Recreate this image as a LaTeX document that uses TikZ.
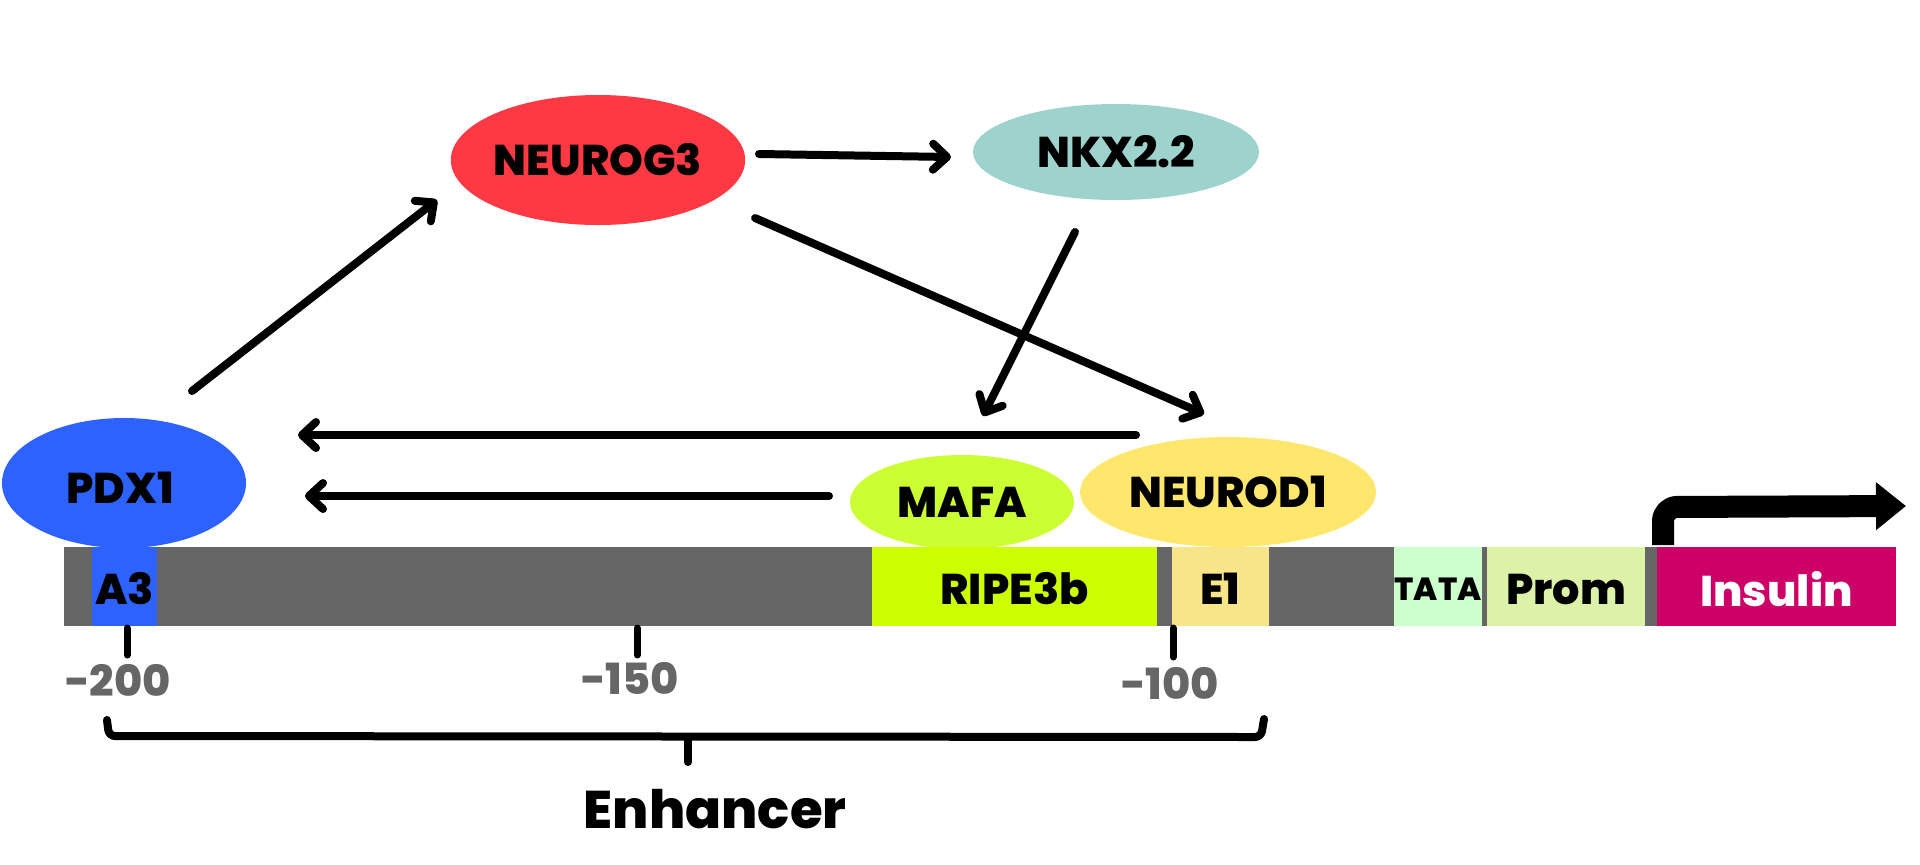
\documentclass[tikz,border=0pt]{standalone}
\usepackage{fontspec}
\setmainfont{Poppins}[BoldFont={Poppins ExtraBold}]
\usetikzlibrary{arrows.meta,calc,shapes.geometric}
\definecolor{pdxblue}{HTML}{2E62FF}
\definecolor{ngred}{HTML}{FF3944}
\definecolor{nkxteal}{HTML}{9DD3CC}
\definecolor{mafalime}{HTML}{CCFF33}
\definecolor{ripelime}{HTML}{CCFF00}
\definecolor{ndyellow}{HTML}{FFE76E}
\definecolor{eonebox}{HTML}{F8E58A}
\definecolor{bargray}{HTML}{666666}
\definecolor{tatagreen}{HTML}{CCFFCC}
\definecolor{promgreen}{HTML}{DCF2A8}
\definecolor{insmag}{HTML}{CC0066}
\tikzset{
  tf/.style={ellipse, inner sep=0pt, font=\fontsize{21.5pt}{24pt}\selectfont\bfseries, text=black},
  seg/.style={inner sep=0pt, font=\fontsize{21.5pt}{24pt}\selectfont\bfseries, text=black},
  arr/.style={line width=4pt, line cap=round, -{Straight Barb[length=7pt,width=13pt,line cap=round,round]}},
  tick/.style={line width=3.5pt, line cap=round},
  ticklab/.style={font=\fontsize{21.5pt}{24pt}\selectfont\bfseries, text=bargray, inner sep=0pt},
  brack/.style={line width=4pt, line cap=round, line join=round, rounded corners=3pt}
}
\begin{document}
\begin{tikzpicture}[x=0.5pt,y=-0.5pt]
\useasboundingbox (0,0) rectangle (1920,864);
% transcription factors
\node[tf, fill=pdxblue, minimum width=122pt, minimum height=65pt] (pdx1) at (124,483) {};
\node[seg] at (120,488) {PDX1};
\node[tf, fill=ngred, minimum width=143pt, minimum height=65pt] (neurog3) at (598,160) {NEUROG3};
\node[tf, fill=nkxteal, minimum width=143pt, minimum height=48pt] (nkx) at (1116,152) {NKX2.2};
\node[tf, fill=mafalime, minimum width=112pt, minimum height=47pt] (mafa) at (962,502) {MAFA};
\node[tf, fill=ndyellow, minimum width=148pt, minimum height=55pt] (neurod1) at (1228,492) {NEUROD1};
% DNA bar
\fill[bargray] (64,547) rectangle (1896,626);
\node[seg, fill=pdxblue, minimum width=32.5pt, minimum height=39.5pt, anchor=north west] (a3) at (92,547) {};
\node[seg] at (124.5,589) {A3};
\node[seg, fill=ripelime, minimum width=142.5pt, minimum height=39.5pt, anchor=north west] (ripe) at (872,547) {};
\node[seg] at (1014.5,589) {RIPE3b};
\node[seg, fill=eonebox, minimum width=48.5pt, minimum height=39.5pt, anchor=north west] (e1) at (1172,547) {};
\node[seg] at (1220.5,589) {E1};
\node[seg, fill=tatagreen, minimum width=44pt, minimum height=39.5pt, anchor=north west] (tata) at (1394,547) {};
\node[seg, font=\fontsize{16pt}{18pt}\selectfont\bfseries] at (1438,589) {TATA};
\node[seg, fill=promgreen, minimum width=79pt, minimum height=39.5pt, anchor=north west] (prom) at (1487,547) {};
\node[seg] at (1566,589) {Prom};
\node[seg, fill=insmag, minimum width=119.5pt, minimum height=39.5pt, anchor=north west] (ins) at (1657,547) {};
\node[seg, text=white] at (1776.5,589) {Insulin};
% regulatory arrows
\draw[arr] ($(pdx1)+(68,-92)$) -- ($(neurog3)+(-161,40)$);
\draw[arr] ($(neurog3)+(161,-6)$) -- ($(nkx)+(-165,5)$);
\draw[arr] ($(neurog3)+(157,58)$) -- ($(neurod1)+(-24,-78)$);
\draw[arr] ($(nkx)+(-41,80)$) -- ($(mafa)+(21,-86)$);
\draw[arr] ($(neurod1)+(-92,-57)$) -- ($(pdx1)+(174,-48)$);
\draw[arr] ($(mafa)+(-133,-6)$) -- ($(pdx1)+(181,13)$);
% transcription start
\coordinate (tss) at (1906,506);
\draw[line width=11pt, line join=round, rounded corners=7pt, -{Triangle[length=15pt,width=23pt]}] ($(ins.north west)+(6,-2)$) -- (1663,507) -- (tss);
% ticks
\node[ticklab] (m200) at (118,680) {-200};
\node[ticklab] (m150) at (630,678) {-150};
\node[ticklab] (m100) at (1170,683) {-100};
\draw[tick] (127,628) -- (127,655);
\draw[tick] (637,628) -- (637,655);
\draw[tick] (1173,628) -- (1173,657);
% enhancer bracket
\node[inner sep=0pt, font=\fontsize{26.5pt}{30pt}\selectfont\bfseries] (enh) at (715,809) {Enhancer};
\draw[brack] (107,720) -- (109,736) -- (1261,737) -- (1264,719);
\draw[brack] (688,737) -- (688,762);
\end{tikzpicture}
\end{document}
